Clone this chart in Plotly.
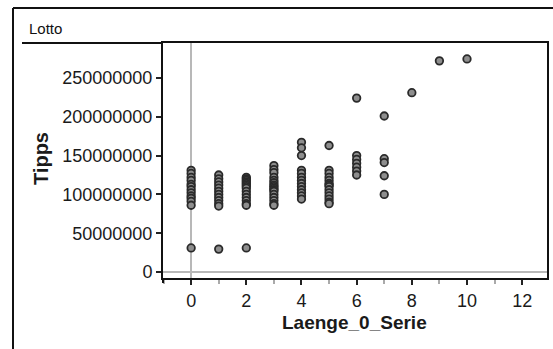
import plotly.graph_objects as go

# Tipps per Laenge_0_Serie
tipps_0 = [131e6, 127e6, 122e6, 118e6, 113e6, 110e6, 106e6, 102e6, 98e6, 95e6, 91e6, 86e6, 31e6]
tipps_1 = [125e6, 120e6, 116e6, 112e6, 108e6, 104e6, 100e6, 96e6, 92e6, 88e6, 85e6, 29.5e6]
tipps_2 = [122e6, 120e6, 118e6, 116e6, 114e6, 112e6, 110e6, 108e6, 104e6, 100e6, 96e6, 92e6, 88e6, 86e6, 31e6]
tipps_3 = [137e6, 132e6, 128e6, 122e6, 118e6, 115e6, 112e6, 110e6, 108e6, 106e6, 104e6, 100e6, 96e6, 92e6, 88e6, 86e6]
tipps_4 = [167e6, 160e6, 150e6, 131e6, 127e6, 122e6, 118e6, 114e6, 110e6, 106e6, 102e6, 98e6, 94e6]
tipps_5 = [163e6, 131e6, 127e6, 122e6, 118e6, 114e6, 112e6, 110e6, 106e6, 102e6, 98e6, 94e6, 90e6, 88e6]
tipps_6 = [224e6, 150e6, 145e6, 140e6, 135e6, 130e6, 125e6]
tipps_7 = [201e6, 146e6, 141e6, 124e6, 100e6]
tipps_8 = [231e6]
tipps_9 = [272e6]
tipps_10 = [274.5e6]

groups = [tipps_0, tipps_1, tipps_2, tipps_3, tipps_4, tipps_5, tipps_6,
          tipps_7, tipps_8, tipps_9, tipps_10]
laenge = [i for i, g in enumerate(groups) for _ in g]
tipps = [v for g in groups for v in g]

x_ticks = [0, 2, 4, 6, 8, 10, 12]
y_ticks = [0, 50000000, 100000000, 150000000, 200000000, 250000000]
y_ticktext = [str(v) for v in y_ticks]

W, H = 553, 349
L, R, T, B = 163, 547, 43, 278


def px(x):
    return (x - L) / (R - L)


def py(y):
    return (B - y) / (B - T)


fig = go.Figure()
fig.add_trace(go.Scatter(
    x=laenge, y=tipps, mode="markers",
    marker=dict(size=7.5, color="#8e8e8e", line=dict(color="#2a2a2a", width=1.8)),
    showlegend=False, hoverinfo="x+y"))

font = "Liberation Sans, Arial, sans-serif"

fig.update_layout(
    width=W, height=H,
    margin=dict(l=L, r=W - R, t=T, b=H - B, autoexpand=False),
    paper_bgcolor="white", plot_bgcolor="white",
    font=dict(family=font, color="#1a1a1a"),
    xaxis=dict(
        range=[-1.02, 12.9], tickvals=x_ticks, ticktext=[str(v) for v in x_ticks],
        ticks="outside", ticklen=5, tickwidth=1.5, tickcolor="#222",
        minor=dict(dtick=1, tick0=1, ticks="outside", ticklen=4, tickcolor="#aaa", showgrid=False),
        showgrid=False, zeroline=True, zerolinecolor="#b8b8b8", zerolinewidth=1.5,
        showline=True, linecolor="#111", linewidth=2, mirror=True,
        tickfont=dict(size=18), automargin=False,
    ),
    yaxis=dict(
        range=[-7.7e6, 295e6], tickvals=y_ticks, ticktext=y_ticktext,
        ticks="outside", ticklen=5, tickwidth=1.5, tickcolor="#222",
        showgrid=False, zeroline=True, zerolinecolor="#b8b8b8", zerolinewidth=1.5,
        showline=True, linecolor="#111", linewidth=2, mirror=True,
        tickfont=dict(size=18), automargin=False,
    ),
    shapes=[
        dict(type="line", xref="paper", yref="paper", x0=px(13), y0=py(349), x1=px(13), y1=py(8),
             line=dict(color="#111", width=2)),
        dict(type="line", xref="paper", yref="paper", x0=px(13), y0=py(8), x1=px(553), y1=py(8),
             line=dict(color="#111", width=2)),
        dict(type="line", xref="paper", yref="paper", x0=px(22), y0=1, x1=0, y1=1,
             line=dict(color="#111", width=2)),
        dict(type="line", xref="paper", yref="paper", x0=0, y0=0, x1=0, y1=py(283),
             line=dict(color="#111", width=2)),
    ],
    annotations=[
        dict(text="Lotto", xref="paper", yref="paper", x=px(27), y=py(28),
             xanchor="left", yanchor="middle", showarrow=False,
             font=dict(size=15, color="#111")),
        dict(text="<b>Laenge_0_Serie</b>", xref="paper", yref="paper", x=px(354), y=py(322),
             xanchor="center", yanchor="middle", showarrow=False,
             font=dict(size=19, color="#1a1a1a")),
        dict(text="<b>Tipps</b>", xref="paper", yref="paper", x=px(41), y=py(159),
             xanchor="center", yanchor="middle", showarrow=False, textangle=-90,
             font=dict(size=20, color="#1a1a1a")),
    ],
)

fig.write_html("out.html", config={"displayModeBar": False},
               post_script="document.body.style.margin='0';document.body.style.overflow='hidden';")
